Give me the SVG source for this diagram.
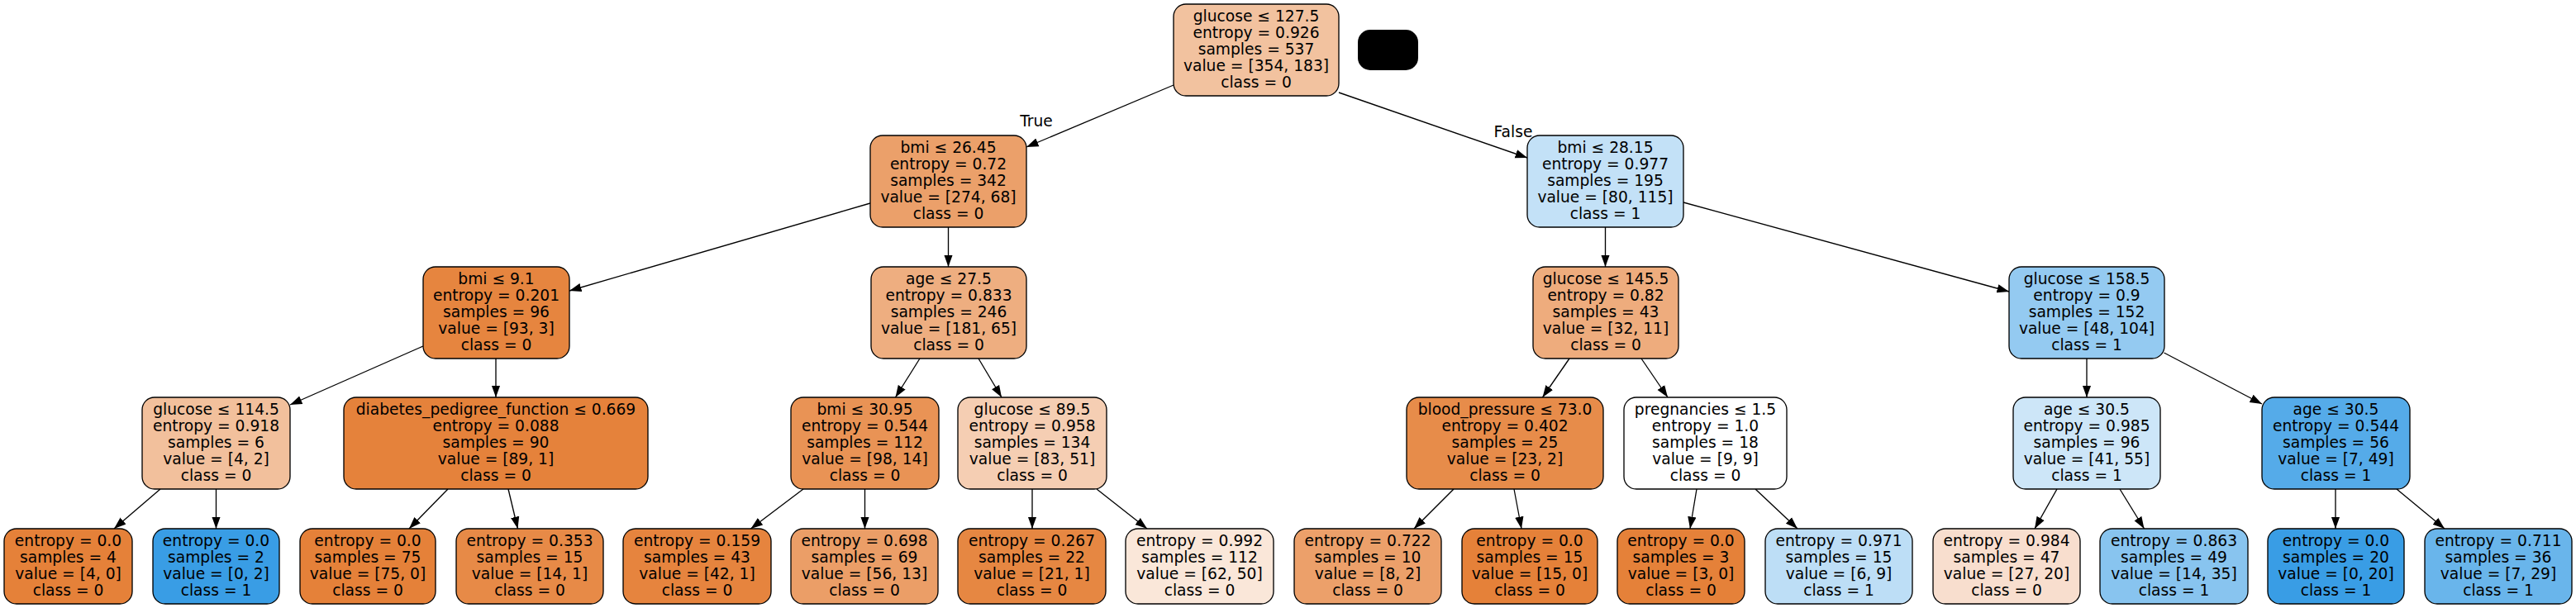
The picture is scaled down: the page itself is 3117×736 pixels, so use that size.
<svg xmlns="http://www.w3.org/2000/svg" width="3117" height="736" viewBox="0 0 3117 736">
<style>
.n rect{stroke:#000;stroke-width:1.33}
.n text, .lbl{font-family:"DejaVu Sans","Liberation Sans",sans-serif;font-size:18.67px;fill:#000;text-anchor:middle}
.e line{stroke:#000;stroke-width:1.33;marker-end:url(#ah)}
</style>
<defs>
<marker id="ah" markerUnits="userSpaceOnUse" markerWidth="15" markerHeight="12" refX="14.5" refY="6" orient="auto" viewBox="0 0 15 12"><path d="M0,0.8 L14.5,6 L0,11.2 z" fill="#000"/></marker>
</defs>
<rect width="3117" height="736" fill="#fff"/>
<g id="connectors" class="e">
<line x1="1420" y1="103" x2="1242" y2="178"/>
<line x1="1620" y1="112" x2="1848" y2="191"/>
<line x1="1147.5" y1="275" x2="1147.5" y2="323"/>
<line x1="1053" y1="246" x2="689" y2="352"/>
<line x1="1942.5" y1="275" x2="1942.5" y2="323"/>
<line x1="2037" y1="245" x2="2431" y2="353"/>
<line x1="512" y1="419" x2="351" y2="490"/>
<line x1="600" y1="434" x2="600" y2="481"/>
<line x1="1113" y1="434" x2="1083.5" y2="481"/>
<line x1="1184" y1="434" x2="1212" y2="481"/>
<line x1="1899" y1="434" x2="1866.5" y2="481"/>
<line x1="1986" y1="434" x2="2018" y2="481"/>
<line x1="2525" y1="434" x2="2525" y2="481"/>
<line x1="2618.5" y1="427" x2="2737" y2="489"/>
<line x1="194" y1="592" x2="138" y2="640"/>
<line x1="261.5" y1="592" x2="261.5" y2="640"/>
<line x1="542" y1="592" x2="495" y2="640"/>
<line x1="615" y1="592" x2="626.5" y2="640"/>
<line x1="972" y1="592" x2="908.5" y2="640"/>
<line x1="1046.5" y1="592" x2="1046.5" y2="640"/>
<line x1="1249" y1="592" x2="1249" y2="640"/>
<line x1="1327" y1="592" x2="1388" y2="640"/>
<line x1="1759" y1="592" x2="1711" y2="640"/>
<line x1="1832" y1="592" x2="1841" y2="640"/>
<line x1="2053" y1="592" x2="2045" y2="640"/>
<line x1="2124" y1="592" x2="2175" y2="640"/>
<line x1="2489" y1="592" x2="2462" y2="640"/>
<line x1="2565" y1="592" x2="2594.5" y2="640"/>
<line x1="2826" y1="592" x2="2826" y2="640"/>
<line x1="2900" y1="592" x2="2958" y2="640"/>
<text class="lbl" x="1254" y="153">True</text>
<text class="lbl" x="1831" y="166">False</text>
</g>
<g id="redacted"><rect x="1643" y="36" width="73" height="49" rx="15" fill="#000"/></g>

<g id="n0" class="n"><rect x="1420" y="5" width="200" height="111" rx="15" fill="#f2c29f"/>
<text x="1520" y="26">glucose ≤ 127.5</text><text x="1520" y="46">entropy = 0.926</text><text x="1520" y="66">samples = 537</text><text x="1520" y="86">value = [354, 183]</text><text x="1520" y="106">class = 0</text></g>

<g id="n1" class="n"><rect x="1053" y="164" width="189" height="111" rx="15" fill="#eba06a"/>
<text x="1147.5" y="185">bmi ≤ 26.45</text><text x="1147.5" y="205">entropy = 0.72</text><text x="1147.5" y="225">samples = 342</text><text x="1147.5" y="245">value = [274, 68]</text><text x="1147.5" y="265">class = 0</text></g>

<g id="n16" class="n"><rect x="1848" y="164" width="189" height="111" rx="15" fill="#c3e1f7"/>
<text x="1942.5" y="185">bmi ≤ 28.15</text><text x="1942.5" y="205">entropy = 0.977</text><text x="1942.5" y="225">samples = 195</text><text x="1942.5" y="245">value = [80, 115]</text><text x="1942.5" y="265">class = 1</text></g>

<g id="n2" class="n"><rect x="512" y="323" width="177" height="111" rx="15" fill="#e6853f"/>
<text x="600.5" y="344">bmi ≤ 9.1</text><text x="600.5" y="364">entropy = 0.201</text><text x="600.5" y="384">samples = 96</text><text x="600.5" y="404">value = [93, 3]</text><text x="600.5" y="424">class = 0</text></g>

<g id="n9" class="n"><rect x="1054" y="323" width="188" height="111" rx="15" fill="#eeae80"/>
<text x="1148" y="344">age ≤ 27.5</text><text x="1148" y="364">entropy = 0.833</text><text x="1148" y="384">samples = 246</text><text x="1148" y="404">value = [181, 65]</text><text x="1148" y="424">class = 0</text></g>

<g id="n17" class="n"><rect x="1855" y="323" width="176" height="111" rx="15" fill="#eeac7d"/>
<text x="1943" y="344">glucose ≤ 145.5</text><text x="1943" y="364">entropy = 0.82</text><text x="1943" y="384">samples = 43</text><text x="1943" y="404">value = [32, 11]</text><text x="1943" y="424">class = 0</text></g>

<g id="n24" class="n"><rect x="2431" y="323" width="188" height="111" rx="15" fill="#94caf1"/>
<text x="2525" y="344">glucose ≤ 158.5</text><text x="2525" y="364">entropy = 0.9</text><text x="2525" y="384">samples = 152</text><text x="2525" y="404">value = [48, 104]</text><text x="2525" y="424">class = 1</text></g>

<g id="n3" class="n"><rect x="172" y="481" width="179" height="111" rx="15" fill="#f2c09c"/>
<text x="261.5" y="502">glucose ≤ 114.5</text><text x="261.5" y="522">entropy = 0.918</text><text x="261.5" y="542">samples = 6</text><text x="261.5" y="562">value = [4, 2]</text><text x="261.5" y="582">class = 0</text></g>

<g id="n6" class="n"><rect x="416" y="481" width="368" height="111" rx="15" fill="#e5823b"/>
<text x="600" y="502">diabetes_pedigree_function ≤ 0.669</text><text x="600" y="522">entropy = 0.088</text><text x="600" y="542">samples = 90</text><text x="600" y="562">value = [89, 1]</text><text x="600" y="582">class = 0</text></g>

<g id="n10" class="n"><rect x="957" y="481" width="179" height="111" rx="15" fill="#e99355"/>
<text x="1046.5" y="502">bmi ≤ 30.95</text><text x="1046.5" y="522">entropy = 0.544</text><text x="1046.5" y="542">samples = 112</text><text x="1046.5" y="562">value = [98, 14]</text><text x="1046.5" y="582">class = 0</text></g>

<g id="n13" class="n"><rect x="1159" y="481" width="180" height="111" rx="15" fill="#f5ceb3"/>
<text x="1249" y="502">glucose ≤ 89.5</text><text x="1249" y="522">entropy = 0.958</text><text x="1249" y="542">samples = 134</text><text x="1249" y="562">value = [83, 51]</text><text x="1249" y="582">class = 0</text></g>

<g id="n18" class="n"><rect x="1702" y="481" width="238" height="111" rx="15" fill="#e78c4a"/>
<text x="1821" y="502">blood_pressure ≤ 73.0</text><text x="1821" y="522">entropy = 0.402</text><text x="1821" y="542">samples = 25</text><text x="1821" y="562">value = [23, 2]</text><text x="1821" y="582">class = 0</text></g>

<g id="n21" class="n"><rect x="1965" y="481" width="197" height="111" rx="15" fill="#ffffff"/>
<text x="2063.5" y="502">pregnancies ≤ 1.5</text><text x="2063.5" y="522">entropy = 1.0</text><text x="2063.5" y="542">samples = 18</text><text x="2063.5" y="562">value = [9, 9]</text><text x="2063.5" y="582">class = 0</text></g>

<g id="n25" class="n"><rect x="2436" y="481" width="178" height="111" rx="15" fill="#cde6f8"/>
<text x="2525" y="502">age ≤ 30.5</text><text x="2525" y="522">entropy = 0.985</text><text x="2525" y="542">samples = 96</text><text x="2525" y="562">value = [41, 55]</text><text x="2525" y="582">class = 1</text></g>

<g id="n28" class="n"><rect x="2737" y="481" width="179" height="111" rx="15" fill="#55abe9"/>
<text x="2826.5" y="502">age ≤ 30.5</text><text x="2826.5" y="522">entropy = 0.544</text><text x="2826.5" y="542">samples = 56</text><text x="2826.5" y="562">value = [7, 49]</text><text x="2826.5" y="582">class = 1</text></g>

<g id="n4" class="n"><rect x="5" y="640" width="155" height="91" rx="15" fill="#e58139"/>
<text x="82.5" y="661">entropy = 0.0</text><text x="82.5" y="681">samples = 4</text><text x="82.5" y="701">value = [4, 0]</text><text x="82.5" y="721">class = 0</text></g>

<g id="n5" class="n"><rect x="185" y="640" width="153" height="91" rx="15" fill="#399de5"/>
<text x="261.5" y="661">entropy = 0.0</text><text x="261.5" y="681">samples = 2</text><text x="261.5" y="701">value = [0, 2]</text><text x="261.5" y="721">class = 1</text></g>

<g id="n7" class="n"><rect x="363" y="640" width="164" height="91" rx="15" fill="#e58139"/>
<text x="445" y="661">entropy = 0.0</text><text x="445" y="681">samples = 75</text><text x="445" y="701">value = [75, 0]</text><text x="445" y="721">class = 0</text></g>

<g id="n8" class="n"><rect x="552" y="640" width="178" height="91" rx="15" fill="#e78a47"/>
<text x="641" y="661">entropy = 0.353</text><text x="641" y="681">samples = 15</text><text x="641" y="701">value = [14, 1]</text><text x="641" y="721">class = 0</text></g>

<g id="n11" class="n"><rect x="754" y="640" width="179" height="91" rx="15" fill="#e6843e"/>
<text x="843.5" y="661">entropy = 0.159</text><text x="843.5" y="681">samples = 43</text><text x="843.5" y="701">value = [42, 1]</text><text x="843.5" y="721">class = 0</text></g>

<g id="n12" class="n"><rect x="957" y="640" width="178" height="91" rx="15" fill="#eb9e67"/>
<text x="1046" y="661">entropy = 0.698</text><text x="1046" y="681">samples = 69</text><text x="1046" y="701">value = [56, 13]</text><text x="1046" y="721">class = 0</text></g>

<g id="n14" class="n"><rect x="1159" y="640" width="179" height="91" rx="15" fill="#e68742"/>
<text x="1248.5" y="661">entropy = 0.267</text><text x="1248.5" y="681">samples = 22</text><text x="1248.5" y="701">value = [21, 1]</text><text x="1248.5" y="721">class = 0</text></g>

<g id="n15" class="n"><rect x="1362" y="640" width="179" height="91" rx="15" fill="#fae7d9"/>
<text x="1451.5" y="661">entropy = 0.992</text><text x="1451.5" y="681">samples = 112</text><text x="1451.5" y="701">value = [62, 50]</text><text x="1451.5" y="721">class = 0</text></g>

<g id="n19" class="n"><rect x="1566" y="640" width="178" height="91" rx="15" fill="#eca06a"/>
<text x="1655" y="661">entropy = 0.722</text><text x="1655" y="681">samples = 10</text><text x="1655" y="701">value = [8, 2]</text><text x="1655" y="721">class = 0</text></g>

<g id="n20" class="n"><rect x="1769" y="640" width="164" height="91" rx="15" fill="#e58139"/>
<text x="1851" y="661">entropy = 0.0</text><text x="1851" y="681">samples = 15</text><text x="1851" y="701">value = [15, 0]</text><text x="1851" y="721">class = 0</text></g>

<g id="n22" class="n"><rect x="1957" y="640" width="154" height="91" rx="15" fill="#e58139"/>
<text x="2034" y="661">entropy = 0.0</text><text x="2034" y="681">samples = 3</text><text x="2034" y="701">value = [3, 0]</text><text x="2034" y="721">class = 0</text></g>

<g id="n23" class="n"><rect x="2136" y="640" width="178" height="91" rx="15" fill="#bddef6"/>
<text x="2225" y="661">entropy = 0.971</text><text x="2225" y="681">samples = 15</text><text x="2225" y="701">value = [6, 9]</text><text x="2225" y="721">class = 1</text></g>

<g id="n26" class="n"><rect x="2339" y="640" width="178" height="91" rx="15" fill="#f8dece"/>
<text x="2428" y="661">entropy = 0.984</text><text x="2428" y="681">samples = 47</text><text x="2428" y="701">value = [27, 20]</text><text x="2428" y="721">class = 0</text></g>

<g id="n27" class="n"><rect x="2541" y="640" width="179" height="91" rx="15" fill="#88c4ef"/>
<text x="2630.5" y="661">entropy = 0.863</text><text x="2630.5" y="681">samples = 49</text><text x="2630.5" y="701">value = [14, 35]</text><text x="2630.5" y="721">class = 1</text></g>

<g id="n29" class="n"><rect x="2744" y="640" width="165" height="91" rx="15" fill="#399de5"/>
<text x="2826.5" y="661">entropy = 0.0</text><text x="2826.5" y="681">samples = 20</text><text x="2826.5" y="701">value = [0, 20]</text><text x="2826.5" y="721">class = 1</text></g>

<g id="n30" class="n"><rect x="2934" y="640" width="178" height="91" rx="15" fill="#69b5eb"/>
<text x="3023" y="661">entropy = 0.711</text><text x="3023" y="681">samples = 36</text><text x="3023" y="701">value = [7, 29]</text><text x="3023" y="721">class = 1</text></g>
</svg>
